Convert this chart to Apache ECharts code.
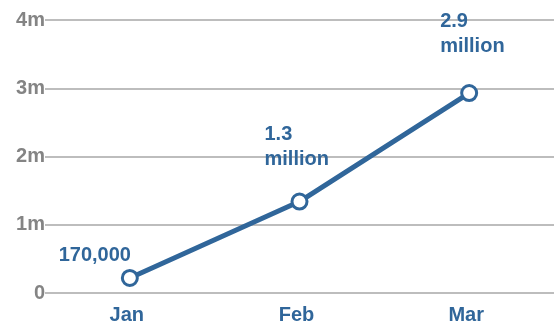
<!DOCTYPE html>
<html>
<head>
<meta charset="utf-8">
<script src="https://cdn.jsdelivr.net/npm/echarts@6/dist/echarts.min.js"></script>
<style>
  html, body { margin: 0; padding: 0; background: #fff; }
  #chart { width: 560px; height: 326px; }
</style>
</head>
<body>
<div id="chart"></div>
<script>
// data
const months = ["Jan", "Feb", "Mar"];
const values = [220000, 1340000, 2930000];
const pointLabels = ["170,000", "1.3\nmillion", "2.9\nmillion"];
const yTicks = [0, 1000000, 2000000, 3000000, 4000000];

const blue = "#30669a";
const gray = "#848484";

// label placement per point
const labelCfg = [
  { align: "center", offset: [-35, 4] },
  { align: "left", offset: [-35, -16] },
  { align: "left", offset: [-29, -20] },
];

const chart = echarts.init(document.getElementById("chart"));

chart.setOption({
  animation: false,
  grid: { left: 45, right: 6, top: 20, bottom: 33 },
  xAxis: {
    type: "category",
    data: months,
    boundaryGap: true,
    axisLine: { show: false },
    axisTick: { show: false },
    axisLabel: {
      color: blue,
      fontFamily: "Liberation Sans",
      fontWeight: "bold",
      fontSize: 20,
      margin: 12,
      padding: [0, 6, 0, 0],
    },
  },
  yAxis: {
    type: "value",
    min: yTicks[0],
    max: yTicks[yTicks.length - 1],
    interval: 1000000,
    axisLine: { show: false },
    axisTick: { show: false },
    splitLine: { lineStyle: { color: "#bdbdbd", width: 2 } },
    axisLabel: {
      color: gray,
      fontFamily: "Liberation Sans",
      fontWeight: "bold",
      fontSize: 20,
      margin: 0,
      formatter: (v) => (v === 0 ? "0" : v / 1000000 + "m"),
    },
  },
  series: [
    {
      type: "line",
      data: values.map((v, i) => ({
        value: v,
        label: {
          formatter: pointLabels[i],
          align: labelCfg[i].align,
          offset: labelCfg[i].offset,
        },
      })),
      lineStyle: { color: blue, width: 5 },
      symbol: "circle",
      symbolSize: 15,
      itemStyle: { color: "#fff", borderColor: blue, borderWidth: 3 },
      label: {
        show: true,
        position: "top",
        color: blue,
        fontFamily: "Liberation Sans",
        fontWeight: "bold",
        fontSize: 20,
        lineHeight: 25,
      },
    },
  ],
});
</script>
</body>
</html>
